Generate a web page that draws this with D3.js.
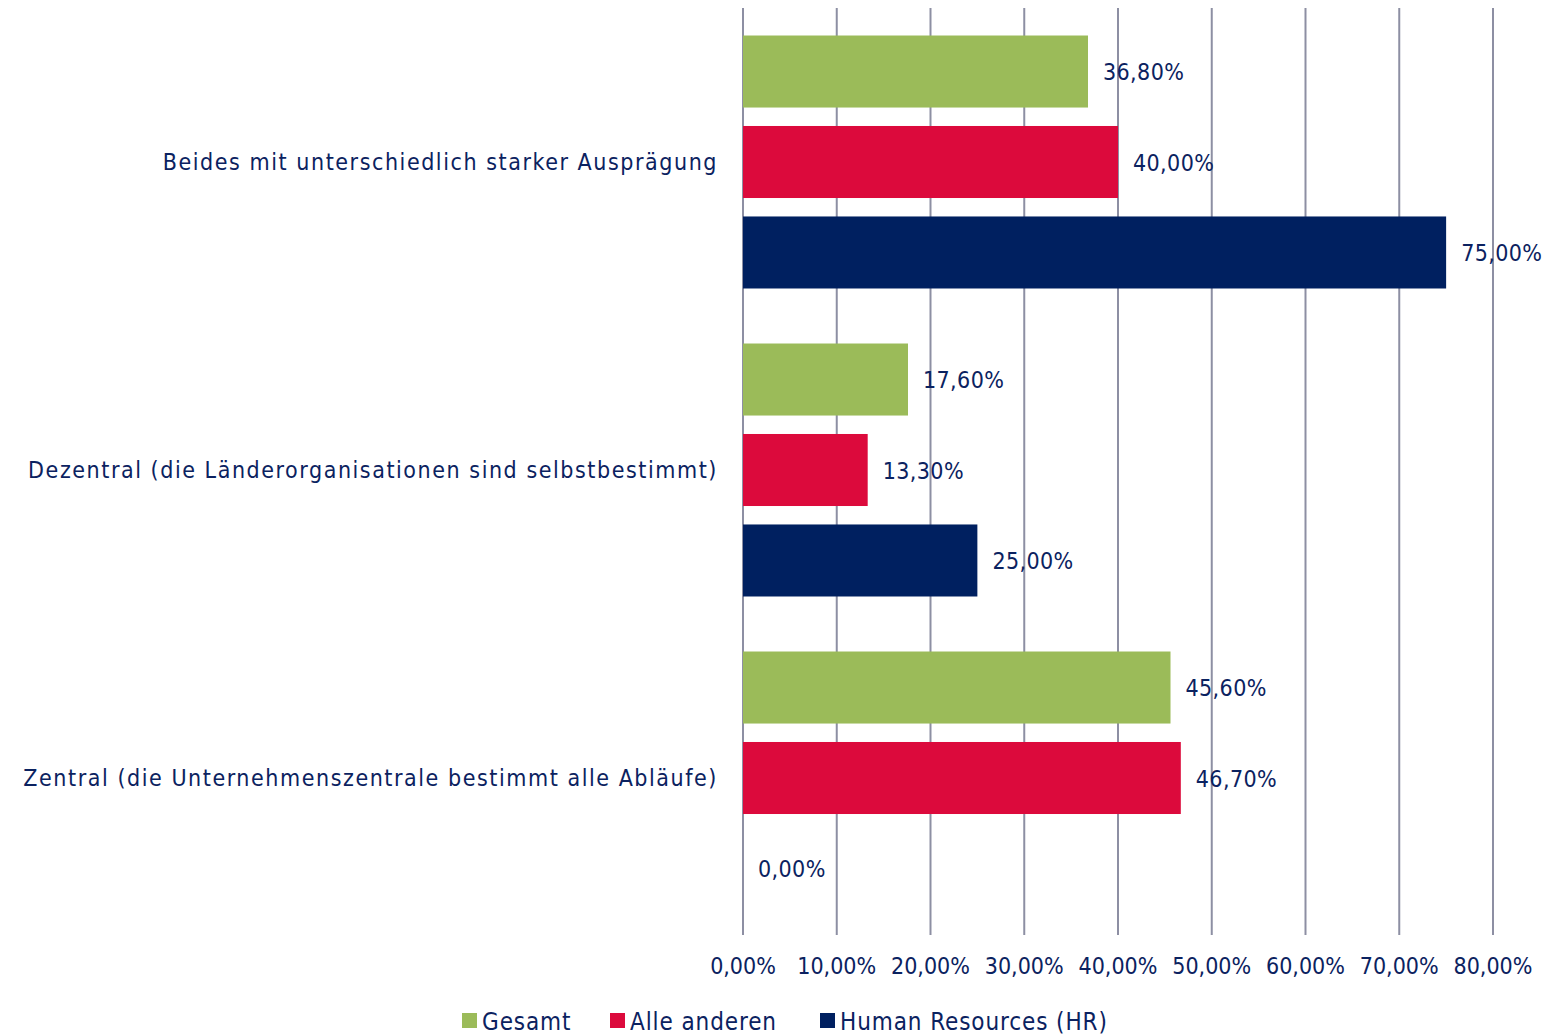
<!DOCTYPE html>
<html>
<head>
<meta charset="utf-8">
<script src="https://cdn.jsdelivr.net/npm/d3@7"></script>
<style>
  body { margin: 0; background: #fff; }
  text { font-family: "DejaVu Sans Condensed", "DejaVu Sans", sans-serif; fill: #0b2260; }
</style>
</head>
<body>
<div id="chart-container"></div>
<script>
// categories, top to bottom
const categories = [
  'Beides mit unterschiedlich starker Ausprägung',
  'Dezentral (die Länderorganisationen sind selbstbestimmt)',
  'Zentral (die Unternehmenszentrale bestimmt alle Abläufe)',
]
const seriesNames = ['Gesamt', 'Alle anderen', 'Human Resources (HR)']
const gesamt = [36.8, 17.6, 45.6]
const alleAnderen = [40.0, 13.3, 46.7]
const hr = [75.0, 25.0, 0.0]
const ticks = [0, 10, 20, 30, 40, 50, 60, 70, 80]
const colors = ['#9bbb59', '#dc0a3c', '#002060']

const W = 1548
const H = 1036
const plotLeft = 743
const plotRight = 1493
const plotTop = 8
const plotBottom = 932

const fmt = (v) => v.toFixed(2).replace('.', ',') + '%'

const svg = d3
  .select('#chart-container')
  .append('svg')
  .attr('width', W)
  .attr('height', H)

const x = d3.scaleLinear().domain([0, 80]).range([plotLeft, plotRight])
const y = d3.scaleBand().domain(categories).range([plotTop, plotBottom])
const y1 = d3
  .scaleBand()
  .domain(seriesNames)
  .range([0, y.bandwidth()])
  .paddingInner(0.204)
  .paddingOuter(0.304)

// gridlines
svg
  .append('g')
  .selectAll('line')
  .data(ticks)
  .join('line')
  .attr('x1', (d) => x(d))
  .attr('x2', (d) => x(d))
  .attr('y1', plotTop)
  .attr('y2', plotBottom + 3)
  .attr('stroke', '#8d8fa3')
  .attr('stroke-width', 2)

// tick labels
svg
  .append('g')
  .selectAll('text')
  .data(ticks)
  .join('text')
  .attr('x', (d) => x(d))
  .attr('y', 974)
  .attr('text-anchor', 'middle')
  .attr('font-size', 23)
  .text((d) => fmt(d))

const rows = []
categories.forEach((c, i) => {
  ;[gesamt, alleAnderen, hr].forEach((arr, j) => {
    rows.push({ cat: c, series: seriesNames[j], value: arr[i], color: colors[j] })
  })
})

// bars
svg
  .append('g')
  .selectAll('rect')
  .data(rows)
  .join('rect')
  .attr('x', x(0))
  .attr('y', (d) => y(d.cat) + y1(d.series))
  .attr('width', (d) => x(d.value) - x(0))
  .attr('height', y1.bandwidth())
  .attr('fill', (d) => d.color)

// value labels
svg
  .append('g')
  .selectAll('text')
  .data(rows)
  .join('text')
  .attr('x', (d) => x(d.value) + 15)
  .attr('y', (d) => y(d.cat) + y1(d.series) + y1.bandwidth() / 2)
  .attr('dy', '0.38em')
  .attr('font-size', 23)
  .attr('letter-spacing', 0.4)
  .text((d) => fmt(d.value))

// category labels
svg
  .append('g')
  .selectAll('text')
  .data(categories)
  .join('text')
  .attr('x', 718)
  .attr('y', (d) => y(d) + y.bandwidth() / 2)
  .attr('dy', '0.36em')
  .attr('text-anchor', 'end')
  .attr('font-size', 23)
  .attr('letter-spacing', 1.55)
  .text((d) => d)

// legend
const legendX = [462, 610, 820]
const legend = svg
  .append('g')
  .selectAll('g')
  .data(seriesNames)
  .join('g')
  .attr('transform', (d, i) => `translate(${legendX[i]},1013)`)
legend
  .append('rect')
  .attr('width', 15)
  .attr('height', 15)
  .attr('fill', (d, i) => colors[i])
legend
  .append('text')
  .attr('x', 20)
  .attr('y', 8)
  .attr('dy', '0.36em')
  .attr('font-size', 24)
  .attr('letter-spacing', 0.9)
  .text((d) => d)
</script>
</body>
</html>
